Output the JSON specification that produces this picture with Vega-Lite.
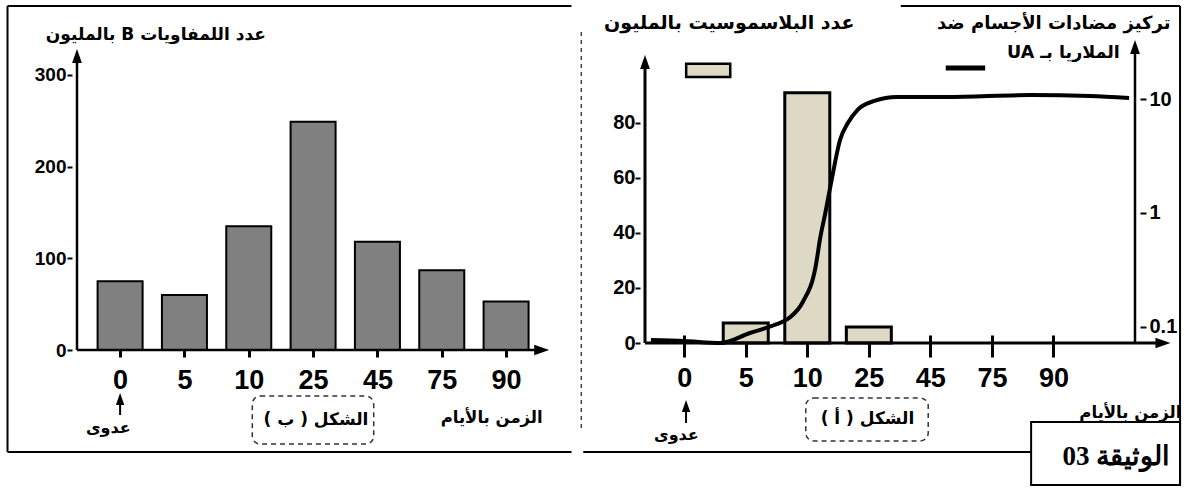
{
  "$schema": "https://vega.github.io/schema/vega-lite/v6.json",
  "autosize": {"type": "pad"},
  "padding": {"left": 6, "top": 5, "right": 2, "bottom": 5},
  "background": "white",
  "bounds": "flush",
  "spacing": 86,
  "config": {
    "view": {"stroke": null},
    "axis": {"grid": false, "labelFont": "Liberation Sans", "labelFontWeight": "bold", "labelColor": "black", "tickColor": "black", "labelFlush": false, "labelOverlap": false}
  },
  "hconcat": [
    {
      "width": 482,
      "height": 310,
      "layer": [
        {
          "data": {"values": [
            {"idx": 0, "day": "0", "lymph": 75},
            {"idx": 1, "day": "5", "lymph": 60},
            {"idx": 2, "day": "10", "lymph": 135},
            {"idx": 3, "day": "25", "lymph": 249},
            {"idx": 4, "day": "45", "lymph": 118},
            {"idx": 5, "day": "75", "lymph": 87},
            {"idx": 6, "day": "90", "lymph": 53}
          ]},
          "mark": {"type": "bar", "size": 45, "fill": "#808080", "stroke": "black", "strokeWidth": 2},
          "encoding": {
            "x": {"field": "idx", "type": "quantitative", "scale": {"domain": [-0.67, 6.667]},
              "axis": {"title": null, "domain": false, "values": [0, 1, 2, 3, 4, 5, 6], "labelExpr": "['0','5','10','25','45','75','90'][datum.value]", "tickSize": 7, "tickWidth": 3, "labelFontSize": 27, "labelPadding": 10}},
            "y": {"field": "lymph", "type": "quantitative", "scale": {"domain": [0, 338.06]},
              "axis": {"title": null, "domain": false, "values": [0, 100, 200, 300], "tickSize": 5, "tickWidth": 2, "labelFontSize": 19, "labelPadding": 1}}
          }
        },
        {
          "data": {"values": [{}]},
          "layer": [
            {"mark": {"type": "rule", "color": "black", "strokeWidth": 2.5},
             "encoding": {"x": {"datum": -0.67, "scale": {"domain": [-0.67, 6.667]}}, "y": {"datum": 0, "scale": {"domain": [0, 338.06]}}, "y2": {"datum": 320.6}}},
            {"mark": {"type": "point", "shape": "M-0.7,1L0,-1L0.7,1Z", "size": 196, "filled": true, "color": "black", "opacity": 1},
             "encoding": {"x": {"datum": -0.67, "scale": {"domain": [-0.67, 6.667]}}, "y": {"datum": 320.6, "scale": {"domain": [0, 338.06]}}}},
            {"mark": {"type": "rule", "color": "black", "strokeWidth": 2.5},
             "encoding": {"x": {"datum": -0.67, "scale": {"domain": [-0.67, 6.667]}}, "x2": {"datum": 6.553}, "y": {"datum": 0, "scale": {"domain": [0, 338.06]}}}},
            {"mark": {"type": "point", "shape": "M-1,-0.7L1,0L-1,0.7Z", "size": 225, "filled": true, "color": "black", "opacity": 1},
             "encoding": {"x": {"datum": 6.553, "scale": {"domain": [-0.67, 6.667]}}, "y": {"datum": 0, "scale": {"domain": [0, 338.06]}}}},
            {"mark": {"type": "rule", "color": "black", "strokeWidth": 2},
             "encoding": {"x": {"datum": 0, "scale": {"domain": [-0.67, 6.667]}}, "y": {"datum": -70.9, "scale": {"domain": [0, 338.06]}}, "y2": {"datum": -55}}},
            {"mark": {"type": "point", "shape": "M-0.7,1L0,-1L0.7,1Z", "size": 144, "filled": true, "color": "black", "opacity": 1},
             "encoding": {"x": {"datum": 0, "scale": {"domain": [-0.67, 6.667]}}, "y": {"datum": -53.4, "scale": {"domain": [0, 338.06]}}}},
            {"mark": {"type": "rule", "color": "black", "strokeWidth": 2},
             "encoding": {"x": {"datum": -1.75, "scale": {"domain": [-0.67, 6.667]}}, "y": {"datum": -111.2, "scale": {"domain": [0, 338.06]}}, "y2": {"datum": 375.1}}},
            {"mark": {"type": "rule", "color": "black", "strokeWidth": 2},
             "encoding": {"x": {"datum": -1.75, "scale": {"domain": [-0.67, 6.667]}}, "x2": {"datum": 7.017}, "y": {"datum": 375.1, "scale": {"domain": [0, 338.06]}}}},
            {"mark": {"type": "rule", "color": "black", "strokeWidth": 2},
             "encoding": {"x": {"datum": -1.75, "scale": {"domain": [-0.67, 6.667]}}, "x2": {"datum": 7.017}, "y": {"datum": -111.2, "scale": {"domain": [0, 338.06]}}}},
            {"mark": {"type": "rect", "fill": "transparent", "stroke": "#333333", "strokeWidth": 1.5, "strokeDash": [5, 4], "cornerRadius": 8},
             "encoding": {"x": {"datum": 2.055, "scale": {"domain": [-0.67, 6.667]}}, "x2": {"datum": 3.942}, "y": {"datum": -50.2, "scale": {"domain": [0, 338.06]}}, "y2": {"datum": -102.5}}},
            {"mark": {"type": "text", "text": "\u202bعدد اللمفاويات B بالمليون\u202c", "font": "DejaVu Sans", "fontWeight": "bold", "fontSize": 17, "align": "center", "baseline": "middle", "color": "black"},
             "encoding": {"x": {"datum": 0.556, "scale": {"domain": [-0.67, 6.667]}}, "y": {"datum": 343.5, "scale": {"domain": [0, 338.06]}}}},
            {"mark": {"type": "text", "text": "\u202bالزمن بالأيام\u202c", "font": "DejaVu Sans", "fontWeight": "bold", "fontSize": 16.5, "align": "center", "baseline": "middle", "color": "black"},
             "encoding": {"x": {"datum": 5.776, "scale": {"domain": [-0.67, 6.667]}}, "y": {"datum": -74.2, "scale": {"domain": [0, 338.06]}}}},
            {"mark": {"type": "text", "text": "\u202bعدوى\u202c", "font": "DejaVu Sans", "fontWeight": "bold", "fontSize": 16, "align": "center", "baseline": "middle", "color": "black"},
             "encoding": {"x": {"datum": -0.183, "scale": {"domain": [-0.67, 6.667]}}, "y": {"datum": -85.1, "scale": {"domain": [0, 338.06]}}}},
            {"mark": {"type": "text", "text": "\u202bالشكل ( ب )\u202c", "font": "DejaVu Sans", "fontWeight": "bold", "fontSize": 17, "align": "center", "baseline": "middle", "color": "black"},
             "encoding": {"x": {"datum": 3.044, "scale": {"domain": [-0.67, 6.667]}}, "y": {"datum": -76.3, "scale": {"domain": [0, 338.06]}}}}
          ]
        }
      ]
    },
    {
      "width": 500,
      "height": 303,
      "layer": [
        {
          "layer": [
            {
              "data": {"values": [
                {"idx": 1, "day": "5", "plasmo": 7.3},
                {"idx": 2, "day": "10", "plasmo": 91},
                {"idx": 3, "day": "25", "plasmo": 5.8}
              ]},
              "mark": {"type": "bar", "size": 45, "fill": "#ddd9c4", "stroke": "black", "strokeWidth": 3},
              "encoding": {
                "x": {"field": "idx", "type": "quantitative", "scale": {"domain": [-0.637, 7.325]},
                  "axis": {"title": null, "domain": false, "values": [0, 1, 2, 3, 4, 5, 6], "labelExpr": "['0','5','10','25','45','75','90'][datum.value]", "offset": -8, "tickSize": 22, "tickWidth": 3, "labelFontSize": 27, "labelPadding": 8}},
                "y": {"field": "plasmo", "type": "quantitative", "scale": {"domain": [0, 110.18]},
                  "axis": {"title": null, "domain": false, "values": [0, 20, 40, 60, 80], "tickSize": 5, "tickWidth": 2, "labelFontSize": 20, "labelPadding": 0}}
              }
            },
            {
              "data": {"values": [{}]},
              "layer": [
                {"mark": {"type": "rule", "color": "black", "strokeWidth": 3},
                 "encoding": {"x": {"datum": -0.637, "scale": {"domain": [-0.637, 7.325]}}, "y": {"datum": 0, "scale": {"domain": [0, 110.18]}}, "y2": {"datum": 102.2}}},
                {"mark": {"type": "point", "shape": "M-0.7,1L0,-1L0.7,1Z", "size": 196, "filled": true, "color": "black", "opacity": 1},
                 "encoding": {"x": {"datum": -0.637, "scale": {"domain": [-0.637, 7.325]}}, "y": {"datum": 102.2, "scale": {"domain": [0, 110.18]}}}},
                {"mark": {"type": "rule", "color": "black", "strokeWidth": 2.5},
                 "encoding": {"x": {"datum": 7.325, "scale": {"domain": [-0.637, 7.325]}}, "y": {"datum": 0, "scale": {"domain": [0, 110.18]}}, "y2": {"datum": 107.6}}},
                {"mark": {"type": "point", "shape": "M-0.7,1L0,-1L0.7,1Z", "size": 196, "filled": true, "color": "black", "opacity": 1},
                 "encoding": {"x": {"datum": 7.325, "scale": {"domain": [-0.637, 7.325]}}, "y": {"datum": 107.6, "scale": {"domain": [0, 110.18]}}}},
                {"mark": {"type": "rule", "color": "black", "strokeWidth": 3},
                 "encoding": {"x": {"datum": -0.637, "scale": {"domain": [-0.637, 7.325]}}, "x2": {"datum": 7.779}, "y": {"datum": 0, "scale": {"domain": [0, 110.18]}}}},
                {"mark": {"type": "point", "shape": "M-1,-0.7L1,0L-1,0.7Z", "size": 225, "filled": true, "color": "black", "opacity": 1},
                 "encoding": {"x": {"datum": 7.779, "scale": {"domain": [-0.637, 7.325]}}, "y": {"datum": 0, "scale": {"domain": [0, 110.18]}}}},
                {"mark": {"type": "rect", "fill": "#ddd9c4", "stroke": "black", "strokeWidth": 2.5},
                 "encoding": {"x": {"datum": 0.032, "scale": {"domain": [-0.637, 7.325]}}, "x2": {"datum": 0.748}, "y": {"datum": 96.7, "scale": {"domain": [0, 110.18]}}, "y2": {"datum": 101.5}}},
                {"mark": {"type": "rule", "color": "black", "strokeWidth": 5},
                 "encoding": {"x": {"datum": 4.25, "scale": {"domain": [-0.637, 7.325]}}, "x2": {"datum": 4.89}, "y": {"datum": 100, "scale": {"domain": [0, 110.18]}}}},
                {"mark": {"type": "rule", "color": "black", "strokeWidth": 2},
                 "encoding": {"x": {"datum": 0.03, "scale": {"domain": [-0.637, 7.325]}}, "y": {"datum": -29.1, "scale": {"domain": [0, 110.18]}}, "y2": {"datum": -24.5}}},
                {"mark": {"type": "point", "shape": "M-0.7,1L0,-1L0.7,1Z", "size": 144, "filled": true, "color": "black", "opacity": 1},
                 "encoding": {"x": {"datum": 0.03, "scale": {"domain": [-0.637, 7.325]}}, "y": {"datum": -22.9, "scale": {"domain": [0, 110.18]}}}},
                {"mark": {"type": "rect", "fill": "transparent", "stroke": "#333333", "strokeWidth": 1.5, "strokeDash": [5, 4], "cornerRadius": 8},
                 "encoding": {"x": {"datum": 1.975, "scale": {"domain": [-0.637, 7.325]}}, "x2": {"datum": 3.965}, "y": {"datum": -20, "scale": {"domain": [0, 110.18]}}, "y2": {"datum": -35.6}}},
                {"mark": {"type": "rule", "color": "black", "strokeWidth": 2},
                 "encoding": {"x": {"datum": 3.519, "scale": {"domain": [-0.637, 7.325]}}, "x2": {"datum": 8.057}, "y": {"datum": 122.5, "scale": {"domain": [0, 110.18]}}}},
                {"mark": {"type": "rule", "color": "black", "strokeWidth": 2},
                 "encoding": {"x": {"datum": 8.057, "scale": {"domain": [-0.637, 7.325]}}, "y": {"datum": -51.6, "scale": {"domain": [0, 110.18]}}, "y2": {"datum": 122.5}}},
                {"mark": {"type": "rect", "fill": "transparent", "stroke": "black", "strokeWidth": 2},
                 "encoding": {"x": {"datum": 5.637, "scale": {"domain": [-0.637, 7.325]}}, "x2": {"datum": 8.057}, "y": {"datum": -28.7, "scale": {"domain": [0, 110.18]}}, "y2": {"datum": -51.6}}},
                {"mark": {"type": "rule", "color": "black", "strokeWidth": 2},
                 "encoding": {"x": {"datum": -1.64, "scale": {"domain": [-0.637, 7.325]}}, "x2": {"datum": 5.637}, "y": {"datum": -39.6, "scale": {"domain": [0, 110.18]}}}},
                {"mark": {"type": "rule", "color": "#444444", "strokeWidth": 1.5, "strokeDash": [4, 4]},
                 "encoding": {"x": {"datum": -1.672, "scale": {"domain": [-0.637, 7.325]}}, "y": {"datum": -30.9, "scale": {"domain": [0, 110.18]}}, "y2": {"datum": 113.1}}},
                {"mark": {"type": "text", "text": "\u202bعدد البلاسموسيت بالمليون\u202c", "font": "DejaVu Sans", "fontWeight": "bold", "fontSize": 19, "align": "center", "baseline": "middle", "color": "black"},
                 "encoding": {"x": {"datum": 0.732, "scale": {"domain": [-0.637, 7.325]}}, "y": {"datum": 116.4, "scale": {"domain": [0, 110.18]}}}},
                {"mark": {"type": "text", "text": "\u202bتركيز مضادات الأجسام ضد\u202c", "font": "DejaVu Sans", "fontWeight": "bold", "fontSize": 18, "align": "center", "baseline": "middle", "color": "black"},
                 "encoding": {"x": {"datum": 6.003, "scale": {"domain": [-0.637, 7.325]}}, "y": {"datum": 116.0, "scale": {"domain": [0, 110.18]}}}},
                {"mark": {"type": "text", "text": "\u202bالملاريا بـ UA\u202c", "font": "DejaVu Sans", "fontWeight": "bold", "fontSize": 17.5, "align": "center", "baseline": "middle", "color": "black"},
                 "encoding": {"x": {"datum": 6.162, "scale": {"domain": [-0.637, 7.325]}}, "y": {"datum": 105.5, "scale": {"domain": [0, 110.18]}}}},
                {"mark": {"type": "text", "text": "\u202bالزمن بالأيام\u202c", "font": "DejaVu Sans", "fontWeight": "bold", "fontSize": 16.5, "align": "center", "baseline": "middle", "color": "black"},
                 "encoding": {"x": {"datum": 7.25, "scale": {"domain": [-0.637, 7.325]}}, "y": {"datum": -25.5, "scale": {"domain": [0, 110.18]}}}},
                {"mark": {"type": "text", "text": "\u202bعدوى\u202c", "font": "DejaVu Sans", "fontWeight": "bold", "fontSize": 16, "align": "center", "baseline": "middle", "color": "black"},
                 "encoding": {"x": {"datum": -0.127, "scale": {"domain": [-0.637, 7.325]}}, "y": {"datum": -33.5, "scale": {"domain": [0, 110.18]}}}},
                {"mark": {"type": "text", "text": "\u202bالشكل ( أ )\u202c", "font": "DejaVu Sans", "fontWeight": "bold", "fontSize": 17, "align": "center", "baseline": "middle", "color": "black"},
                 "encoding": {"x": {"datum": 2.978, "scale": {"domain": [-0.637, 7.325]}}, "y": {"datum": -27.6, "scale": {"domain": [0, 110.18]}}}},
                {"mark": {"type": "text", "text": "\u202bالوثيقة 03\u202c", "font": "Liberation Serif", "fontWeight": "bold", "fontSize": 27, "align": "center", "baseline": "middle", "color": "black"},
                 "encoding": {"x": {"datum": 7.022, "scale": {"domain": [-0.637, 7.325]}}, "y": {"datum": -41.5, "scale": {"domain": [0, 110.18]}}}}
              ]
            }
          ]
        },
        {
          "data": {"values": [
            {"t": -0.541, "conc": 0.076},
            {"t": 0, "conc": 0.0745},
            {"t": 0.589, "conc": 0.0716},
            {"t": 1.067, "conc": 0.0877},
            {"t": 1.465, "conc": 0.1031},
            {"t": 1.704, "conc": 0.1188},
            {"t": 1.927, "conc": 0.1644},
            {"t": 2.134, "conc": 0.334},
            {"t": 2.213, "conc": 0.615},
            {"t": 2.293, "conc": 1.0},
            {"t": 2.404, "conc": 2.07},
            {"t": 2.532, "conc": 4.4},
            {"t": 2.659, "conc": 6.2},
            {"t": 2.818, "conc": 8.1},
            {"t": 3.089, "conc": 9.7},
            {"t": 3.455, "conc": 10.5},
            {"t": 4.252, "conc": 10.5},
            {"t": 5.637, "conc": 10.95},
            {"t": 6.59, "conc": 10.74},
            {"t": 7.229, "conc": 10.3}
          ]},
          "mark": {"type": "line", "interpolate": "monotone", "color": "black", "strokeWidth": 4},
          "encoding": {
            "x": {"field": "t", "type": "quantitative", "scale": {"domain": [-0.637, 7.325]}, "title": null},
            "y": {"field": "conc", "type": "quantitative", "scale": {"type": "log", "domain": [0.0716, 33.4]},
              "axis": {"orient": "right", "title": null, "domain": false, "values": [0.1, 1, 10], "format": "~g", "tickSize": 6, "tickWidth": 2, "labelFontSize": 20, "labelPadding": 3}}
          }
        }
      ],
      "resolve": {"scale": {"y": "independent"}}
    }
  ]
}
